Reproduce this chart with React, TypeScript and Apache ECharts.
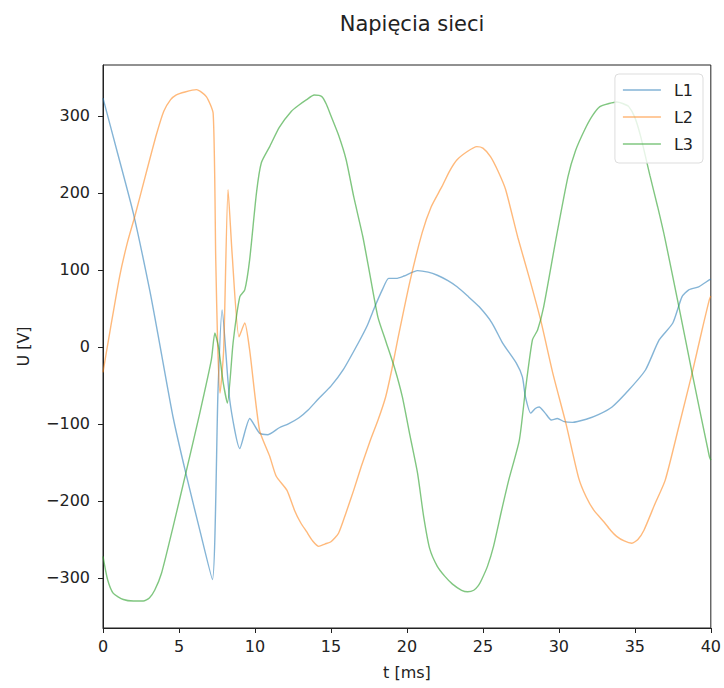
import React, { useEffect, useRef } from "react";
import * as echarts from "echarts";

const titleText = "Napięcia sieci";
const seriesNames = ["L1", "L2", "L3"];
const seriesColors = ["rgba(31,119,180,0.55)", "rgba(255,127,14,0.55)", "rgba(44,160,44,0.6)"];
const xTicks = [0, 5, 10, 15, 20, 25, 30, 35, 40];
const yTicks = [-300, -200, -100, 0, 100, 200, 300];

// [t (ms), U (V)]
const l1Data: [number, number][] = [
  [0, 323], [0.9, 256], [1.99, 174], [3.09, 72], [3.72, 5], [4.62, -92], [5.45, -164],
  [6.37, -238], [7.2, -302], [7.57, -56], [7.84, 48], [8.34, -69], [9.0, -132], [9.66, -93],
  [10.3, -112], [10.86, -114], [11.6, -105], [12.2, -100], [12.9, -92], [13.5, -82],
  [14.2, -67], [15.0, -51], [15.8, -30], [16.8, 5], [17.4, 28], [17.8, 48], [18.4, 75],
  [18.8, 89], [19.3, 89], [19.8, 92], [20.7, 99], [21.4, 97], [22.0, 93], [22.7, 86],
  [23.3, 78], [24.0, 66], [24.76, 52], [25.6, 31], [26.3, 5], [27.2, -21], [27.6, -39],
  [27.8, -65], [28.15, -86], [28.45, -80], [28.7, -78], [29.1, -86], [29.5, -95], [29.9, -93],
  [30.35, -97], [30.9, -98], [31.8, -94], [32.6, -88], [33.5, -78], [34.6, -56], [35.7, -30],
  [36.6, 9], [37.5, 31], [38.1, 65], [38.55, 74], [39.2, 78], [39.9, 87], [40, 88],
];

const l2Data: [number, number][] = [
  [0, -33], [0.5, 25], [1.1, 92], [1.6, 135], [2.1, 170], [2.87, 228], [3.52, 276],
  [4.0, 306], [4.45, 321], [4.8, 327], [5.4, 331], [6.15, 334], [6.8, 325], [7.25, 303],
  [7.42, 113], [7.55, 0], [7.7, -60], [7.94, -4], [8.23, 204], [8.5, 120], [8.95, 13],
  [9.33, 31], [9.65, -4], [10.3, -108], [10.97, -142], [11.4, -168], [12.1, -186],
  [12.6, -212], [13.0, -228], [13.4, -240], [13.8, -252], [14.2, -259], [14.6, -256],
  [15.0, -253], [15.5, -242], [16.0, -215], [16.5, -186], [17.0, -155], [17.6, -121],
  [18.1, -95], [18.6, -65], [19.0, -30], [19.4, 10], [20.2, 85], [21.0, 148], [21.6, 182],
  [22.3, 208], [22.8, 228], [23.3, 243], [24.0, 254], [24.6, 260], [25.0, 258], [25.5, 247],
  [26.0, 228], [26.5, 204], [27.3, 142], [28.05, 90], [28.8, 35], [29.6, -34], [30.46, -99],
  [31.3, -170], [31.8, -195], [32.3, -212], [33.0, -228], [33.4, -238], [33.8, -246],
  [34.3, -252], [34.8, -255], [35.2, -250], [35.6, -238], [36.3, -205], [37.0, -173],
  [37.9, -103], [38.77, -34], [39.4, 20], [39.9, 61], [40, 66],
];

const l3Data: [number, number][] = [
  [0, -272], [0.3, -302], [0.68, -320], [1.34, -328], [2.0, -330], [2.65, -330], [3.05, -326],
  [3.4, -316], [3.85, -294], [4.62, -233], [5.45, -164], [6.37, -86], [7.13, -17], [7.36, 18],
  [7.6, 0], [7.9, -45], [8.19, -73], [8.56, 5], [9.0, 65], [9.33, 74], [9.65, 113],
  [10.1, 200], [10.42, 239], [10.97, 260], [11.6, 285], [12.4, 306], [12.9, 314], [13.4, 321],
  [13.9, 327], [14.4, 325], [14.7, 315], [15.0, 300], [15.5, 275], [16.0, 243], [16.5, 195],
  [17.1, 143], [17.6, 90], [18.1, 38], [18.6, 8], [19.2, -28], [19.7, -65], [20.2, -115],
  [20.7, -164], [21.1, -220], [21.5, -262], [22.0, -285], [22.5, -298], [23.0, -308],
  [23.6, -316], [24.0, -318], [24.4, -316], [24.7, -310], [24.9, -303], [25.3, -285],
  [25.7, -259], [26.2, -215], [26.7, -173], [27.4, -121], [27.8, -56], [28.26, 9], [28.6, 22],
  [29.0, 52], [29.8, 139], [30.6, 221], [31.1, 255], [31.7, 282], [32.2, 300], [32.7, 312],
  [33.3, 316], [33.8, 318], [34.2, 316], [34.6, 312], [35.0, 298], [35.4, 272], [36.0, 222],
  [36.5, 182], [37.0, 139], [37.9, 52], [38.77, -34], [39.9, -142], [40, -147],
];

const allData = [l1Data, l2Data, l3Data];

const minusFmt = (v: number) => String(v).replace("-", "\u2212");

export default function App() {
  const ref = useRef<HTMLDivElement>(null);
  useEffect(() => {
    if (!ref.current) return;
    const chart = echarts.init(ref.current, undefined, { renderer: "svg" });
    const font = "DejaVu Sans";
    chart.setOption({
      animation: false,
      backgroundColor: "#ffffff",
      title: {
        text: titleText,
        left: 407,
        top: 8,
        textAlign: "center",
        textStyle: { fontFamily: font, fontSize: 21, fontWeight: "normal", color: "#222" },
      },
      legend: {
        data: seriesNames,
        orient: "vertical",
        right: 21,
        top: 74,
        padding: [8, 10, 11, 8],
        itemGap: 11,
        itemWidth: 38,
        itemHeight: 1.6,
        icon: "rect",
        backgroundColor: "rgba(255,255,255,0.8)",
        borderColor: "#ddd",
        borderWidth: 1,
        borderRadius: 4,
        textStyle: { fontFamily: font, fontSize: 16, color: "#222", padding: [0, 0, 0, 8], lineHeight: 16 },
      },
      grid: {
        left: 103,
        right: 12,
        top: 65,
        bottom: 60,
        show: true,
        borderColor: "#222",
        borderWidth: 1,
        backgroundColor: "transparent",
      },
      xAxis: {
        type: "value",
        min: xTicks[0],
        max: xTicks[xTicks.length - 1],
        interval: 5,
        name: "t [ms]",
        nameLocation: "middle",
        nameGap: 36,
        nameTextStyle: { fontFamily: font, fontSize: 16, color: "#222" },
        axisLine: { show: true, onZero: false, lineStyle: { color: "#222" } },
        axisTick: { show: true, inside: false, length: 5, lineStyle: { color: "#222" } },
        axisLabel: { fontFamily: font, fontSize: 16, color: "#222", margin: 10, formatter: minusFmt },
        splitLine: { show: false },
      },
      yAxis: {
        type: "value",
        min: -365,
        max: 366,
        name: "U [V]",
        nameLocation: "middle",
        nameGap: 72,
        nameRotate: 90,
        nameTextStyle: { fontFamily: font, fontSize: 16, color: "#222" },
        axisLine: { show: true, onZero: false, lineStyle: { color: "#222" } },
        axisTick: { show: true, inside: false, length: 5, lineStyle: { color: "#222" }, customValues: yTicks },
        axisLabel: { fontFamily: font, fontSize: 16, color: "#222", margin: 13, customValues: yTicks, formatter: minusFmt },
        splitLine: { show: false },
      },
      series: seriesNames.map((name, i) => ({
        name,
        type: "line",
        data: allData[i],
        showSymbol: false,
        symbol: "none",
        smooth: 0.2,
        color: seriesColors[i],
        lineStyle: { width: 1.4, color: seriesColors[i] },
        clip: true,
      })),
    });
    return () => chart.dispose();
  }, []);
  return (
    <div
      ref={ref}
      style={{ position: "absolute", left: 0, top: 0, width: 724, height: 688 }}
    />
  );
}
